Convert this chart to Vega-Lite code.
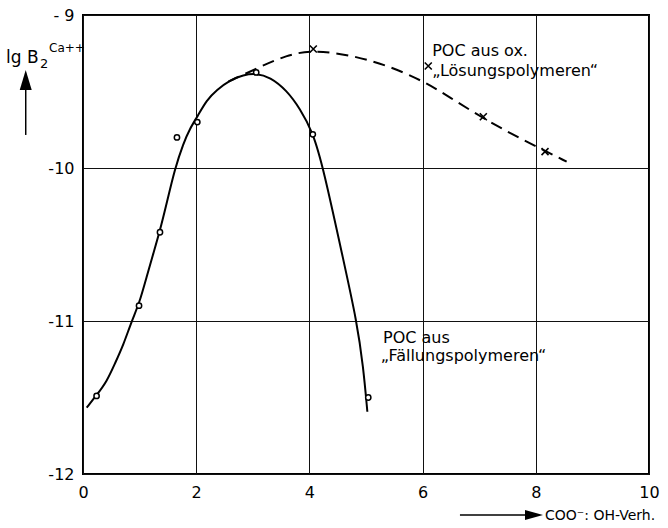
{
  "$schema": "https://vega.github.io/schema/vega-lite/v6.json",
  "width": 566,
  "height": 459,
  "autosize": {"type": "none"},
  "padding": {"left": 83, "top": 15, "right": 19, "bottom": 54},
  "background": "white",
  "config": {
    "view": {"stroke": "black", "strokeWidth": 2},
    "font": "DejaVu Sans",
    "text": {"font": "DejaVu Sans", "color": "black"}
  },
  "datasets": {
    "solid": [
      {"x": 0.065, "y": -11.566}, {"x": 0.241, "y": -11.484}, {"x": 0.418, "y": -11.397},
      {"x": 0.565, "y": -11.277}, {"x": 0.713, "y": -11.157}, {"x": 0.86, "y": -11.0},
      {"x": 0.995, "y": -10.884}, {"x": 1.125, "y": -10.71}, {"x": 1.243, "y": -10.558},
      {"x": 1.355, "y": -10.416}, {"x": 1.478, "y": -10.231}, {"x": 1.625, "y": -10.002},
      {"x": 1.773, "y": -9.839}, {"x": 1.89, "y": -9.741}, {"x": 2.02, "y": -9.665},
      {"x": 2.185, "y": -9.556}, {"x": 2.362, "y": -9.49}, {"x": 2.597, "y": -9.425},
      {"x": 2.833, "y": -9.392}, {"x": 3.057, "y": -9.381}, {"x": 3.304, "y": -9.405},
      {"x": 3.599, "y": -9.492}, {"x": 3.834, "y": -9.612}, {"x": 4.058, "y": -9.763},
      {"x": 4.246, "y": -10.0}, {"x": 4.6, "y": -10.601}, {"x": 4.836, "y": -11.0},
      {"x": 4.952, "y": -11.299}, {"x": 5.024, "y": -11.593}
    ],
    "dashed": [
      {"x": 2.568, "y": -9.436}, {"x": 3.068, "y": -9.349}, {"x": 3.598, "y": -9.261},
      {"x": 4.069, "y": -9.229}, {"x": 4.717, "y": -9.261}, {"x": 5.366, "y": -9.327},
      {"x": 6.042, "y": -9.436}, {"x": 6.55, "y": -9.555}, {"x": 7.073, "y": -9.675},
      {"x": 7.603, "y": -9.784}, {"x": 8.133, "y": -9.882}, {"x": 8.545, "y": -9.959}
    ],
    "circles": [
      {"x": 0.24, "y": -11.49}, {"x": 0.99, "y": -10.9}, {"x": 1.36, "y": -10.42},
      {"x": 1.66, "y": -9.8}, {"x": 2.02, "y": -9.7}, {"x": 3.06, "y": -9.375},
      {"x": 4.06, "y": -9.78}, {"x": 5.04, "y": -11.5}
    ],
    "crosses": [
      {"x": 4.069, "y": -9.222}, {"x": 6.1, "y": -9.333},
      {"x": 7.073, "y": -9.665}, {"x": 8.163, "y": -9.893}
    ],
    "notes": [
      {"x": 6.17, "y": -9.235, "text": "POC aus ox."},
      {"x": 6.17, "y": -9.363, "text": "„Lösungspolymeren“"},
      {"x": 5.3, "y": -11.108, "text": "POC aus"},
      {"x": 5.26, "y": -11.229, "text": "„Fällungspolymeren“"}
    ],
    "ytitle_main": [{"x": -1.36, "y": -9.284, "text": "lg B"}],
    "ytitle_sub": [{"x": -0.76, "y": -9.318, "text": "2"}],
    "ytitle_sup": [{"x": -0.6, "y": -9.216, "text": "Ca++"}],
    "xtitle": [{"x": 8.163, "y": -12.275, "text": "COO⁻: OH-Verh."}],
    "varrow": [{"x": -1.012, "y": -9.49, "y2": -9.784}],
    "vhead": [{"x": -1.012, "y": -9.425}],
    "harrow": [{"x": 6.66, "x2": 7.85, "y": -12.268}],
    "hhead": [{"x": 7.968, "y": -12.268}]
  },
  "layer": [
    {
      "data": {"name": "solid"},
      "mark": {"type": "line", "color": "black", "strokeWidth": 2, "interpolate": "basis"},
      "encoding": {
        "x": {
          "field": "x", "type": "quantitative",
          "scale": {"domain": [0, 10], "nice": false, "zero": false},
          "axis": {
            "values": [0, 2, 4, 6, 8, 10], "format": "d", "grid": true, "gridColor": "#111", "gridWidth": 1, "gridOpacity": 1,
            "ticks": false, "domain": false, "title": null, "labelFontSize": 16, "labelPadding": 10,
            "labelColor": "black", "labelFont": "DejaVu Sans", "labelFlush": false
          }
        },
        "y": {
          "field": "y", "type": "quantitative",
          "scale": {"domain": [-12, -9], "nice": false, "zero": false},
          "axis": {
            "values": [-12, -11, -10, -9], "grid": true, "gridColor": "#111", "gridWidth": 1, "gridOpacity": 1,
            "ticks": false, "domain": false, "title": null, "labelFontSize": 16, "labelPadding": 9,
            "labelColor": "black", "labelFont": "DejaVu Sans", "labelFlush": false,
            "labelExpr": "datum.value == -9 ? '- 9' : '-' + abs(datum.value)"
          }
        }
      }
    },
    {
      "data": {"name": "dashed"},
      "mark": {"type": "line", "color": "black", "strokeWidth": 2, "strokeDash": [12, 7], "interpolate": "basis"},
      "encoding": {
        "x": {"field": "x", "type": "quantitative"},
        "y": {"field": "y", "type": "quantitative"}
      }
    },
    {
      "data": {"name": "circles"},
      "mark": {"type": "point", "shape": "circle", "filled": true, "fill": "white", "stroke": "black", "strokeWidth": 1.5, "size": 28, "opacity": 1},
      "encoding": {
        "x": {"field": "x", "type": "quantitative"},
        "y": {"field": "y", "type": "quantitative"}
      }
    },
    {
      "data": {"name": "crosses"},
      "mark": {"type": "point", "shape": "M-1,-1L1,1M1,-1L-1,1", "filled": false, "stroke": "black", "strokeWidth": 1.6, "size": 49, "opacity": 1},
      "encoding": {
        "x": {"field": "x", "type": "quantitative"},
        "y": {"field": "y", "type": "quantitative"}
      }
    },
    {
      "data": {"name": "notes"},
      "mark": {"type": "text", "align": "left", "baseline": "middle", "fontSize": 16},
      "encoding": {
        "x": {"field": "x", "type": "quantitative"},
        "y": {"field": "y", "type": "quantitative"},
        "text": {"field": "text"}
      }
    },
    {
      "data": {"name": "ytitle_main"},
      "mark": {"type": "text", "align": "left", "baseline": "middle", "fontSize": 17},
      "encoding": {
        "x": {"field": "x", "type": "quantitative"},
        "y": {"field": "y", "type": "quantitative"},
        "text": {"field": "text"}
      }
    },
    {
      "data": {"name": "ytitle_sub"},
      "mark": {"type": "text", "align": "left", "baseline": "middle", "fontSize": 13},
      "encoding": {
        "x": {"field": "x", "type": "quantitative"},
        "y": {"field": "y", "type": "quantitative"},
        "text": {"field": "text"}
      }
    },
    {
      "data": {"name": "ytitle_sup"},
      "mark": {"type": "text", "align": "left", "baseline": "middle", "fontSize": 12},
      "encoding": {
        "x": {"field": "x", "type": "quantitative"},
        "y": {"field": "y", "type": "quantitative"},
        "text": {"field": "text"}
      }
    },
    {
      "data": {"name": "xtitle"},
      "mark": {"type": "text", "align": "left", "baseline": "middle", "fontSize": 14},
      "encoding": {
        "x": {"field": "x", "type": "quantitative"},
        "y": {"field": "y", "type": "quantitative"},
        "text": {"field": "text"}
      }
    },
    {
      "data": {"name": "varrow"},
      "mark": {"type": "rule", "color": "black", "strokeWidth": 1.5},
      "encoding": {
        "x": {"field": "x", "type": "quantitative"},
        "y": {"field": "y", "type": "quantitative"},
        "y2": {"field": "y2"}
      }
    },
    {
      "data": {"name": "vhead"},
      "mark": {"type": "point", "shape": "M0,-1L0.6,1L-0.6,1Z", "filled": true, "color": "black", "size": 400, "opacity": 1},
      "encoding": {
        "x": {"field": "x", "type": "quantitative"},
        "y": {"field": "y", "type": "quantitative"}
      }
    },
    {
      "data": {"name": "harrow"},
      "mark": {"type": "rule", "color": "black", "strokeWidth": 1.5},
      "encoding": {
        "x": {"field": "x", "type": "quantitative"},
        "x2": {"field": "x2"},
        "y": {"field": "y", "type": "quantitative"}
      }
    },
    {
      "data": {"name": "hhead"},
      "mark": {"type": "point", "shape": "M1,0L-1,-0.55L-1,0.55Z", "filled": true, "color": "black", "size": 324, "opacity": 1},
      "encoding": {
        "x": {"field": "x", "type": "quantitative"},
        "y": {"field": "y", "type": "quantitative"}
      }
    }
  ]
}
